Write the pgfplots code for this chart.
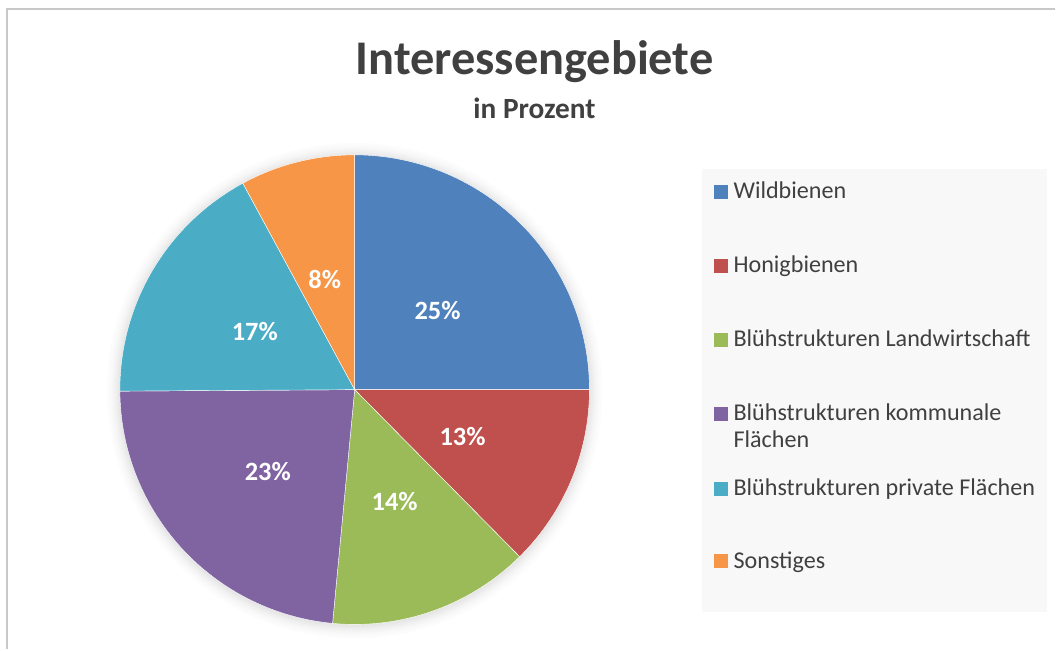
\documentclass[border=0pt]{standalone}
\usepackage{pgfplots}
\pgfplotsset{compat=1.18}
\usepackage{fontspec}
\setmainfont{Carlito}
\definecolor{cA}{HTML}{4F81BD}
\definecolor{cB}{HTML}{C0504D}
\definecolor{cC}{HTML}{9BBB59}
\definecolor{cD}{HTML}{8064A2}
\definecolor{cE}{HTML}{4BACC6}
\definecolor{cF}{HTML}{F79646}
\definecolor{txt}{HTML}{404040}
\definecolor{frame}{HTML}{C8C8C8}
\definecolor{legbg}{HTML}{F8F8F8}
% values in percent (clockwise from 12 o'clock):
% Wildbienen 25, Honigbienen 12.6, Landwirtschaft 13.9, kommunale 23.4, private 17.2, Sonstiges 7.9
\newcommand{\slice}[3]{% color, start angle, end angle (math degrees)
  \addplot[fill=#1, draw=white, line width=0.3pt, domain=#3:#2, samples=80, variable=\t]
    ({355+235*cos(\t)},{390-235*sin(\t)}) -- (axis cs:355,390) -- cycle;}
\begin{document}
\begin{tikzpicture}
\begin{axis}[
  at={(0,0)}, anchor=south west,
  scale only axis, width=792pt, height=487.5pt,
  xmin=0, xmax=1056, ymin=0, ymax=650, y dir=reverse,
  hide axis, clip=false,
]
% background / frame
\fill[white] (axis cs:0,0) rectangle (axis cs:1056,650);
\draw[frame, line width=1.5pt] (axis cs:6,9.5) -- (axis cs:1056,9.5);
\draw[frame, line width=1.5pt] (axis cs:7,9) -- (axis cs:7,650);
% legend background
\fill[legbg] (axis cs:703,169) rectangle (axis cs:1048,613);
% soft shadow
\fill[black, opacity=0.010] (axis cs:355,391) circle[radius=186pt];
\fill[black, opacity=0.012] (axis cs:355,391) circle[radius=184pt];
\fill[black, opacity=0.014] (axis cs:355,391) circle[radius=182pt];
\fill[black, opacity=0.016] (axis cs:355,391) circle[radius=180.5pt];
\fill[black, opacity=0.018] (axis cs:355,391) circle[radius=179pt];
\fill[black, opacity=0.020] (axis cs:355,391) circle[radius=177.5pt];
% slices: value v -> 3.6*v degrees
\slice{cA}{90}{0}            % 25
\slice{cB}{0}{-45.36}        % 12.6
\slice{cC}{-45.36}{-95.4}    % 13.9
\slice{cD}{-95.4}{-179.64}   % 23.4
\slice{cE}{-179.64}{-241.56} % 17.2
\slice{cF}{-241.56}{-270}    % 7.9
% data labels
\begin{scope}[every node/.style={text=white, font=\fontsize{19.8}{22}\selectfont\bfseries}]
\node at (axis cs:438,311) {25\%};
\node at (axis cs:463,437) {13\%};
\node at (axis cs:395,502) {14\%};
\node at (axis cs:268,472) {23\%};
\node at (axis cs:255,332) {17\%};
\node at (axis cs:325,280) {8\%};
\end{scope}
% title
\node[text=txt, font=\fontsize{36.3}{40}\selectfont\bfseries] at (axis cs:535,62) {Interessengebiete};
\node[text=txt, font=\fontsize{22}{24}\selectfont\bfseries] at (axis cs:535,108) {in Prozent};
% legend
\fill[cA] (axis cs:715,185) rectangle (axis cs:729,199);
\fill[cB] (axis cs:715,259) rectangle (axis cs:729,273);
\fill[cC] (axis cs:715,333) rectangle (axis cs:729,347);
\fill[cD] (axis cs:715,407) rectangle (axis cs:729,421);
\fill[cE] (axis cs:715,482) rectangle (axis cs:729,496);
\fill[cF] (axis cs:715,555) rectangle (axis cs:729,569);
\begin{scope}[every node/.style={text=txt, anchor=base west, inner sep=0pt, font=\fontsize{18.1}{20}\selectfont}]
\node at (axis cs:734,199) {Wildbienen};
\node at (axis cs:734,273) {Honigbienen};
\node at (axis cs:734,347) {Blühstrukturen Landwirtschaft};
\node at (axis cs:734,421) {Blühstrukturen kommunale};
\node at (axis cs:734,448) {Flächen};
\node at (axis cs:734,496) {Blühstrukturen private Flächen};
\node at (axis cs:734,569) {Sonstiges};
\end{scope}
\end{axis}
\end{tikzpicture}
\end{document}
